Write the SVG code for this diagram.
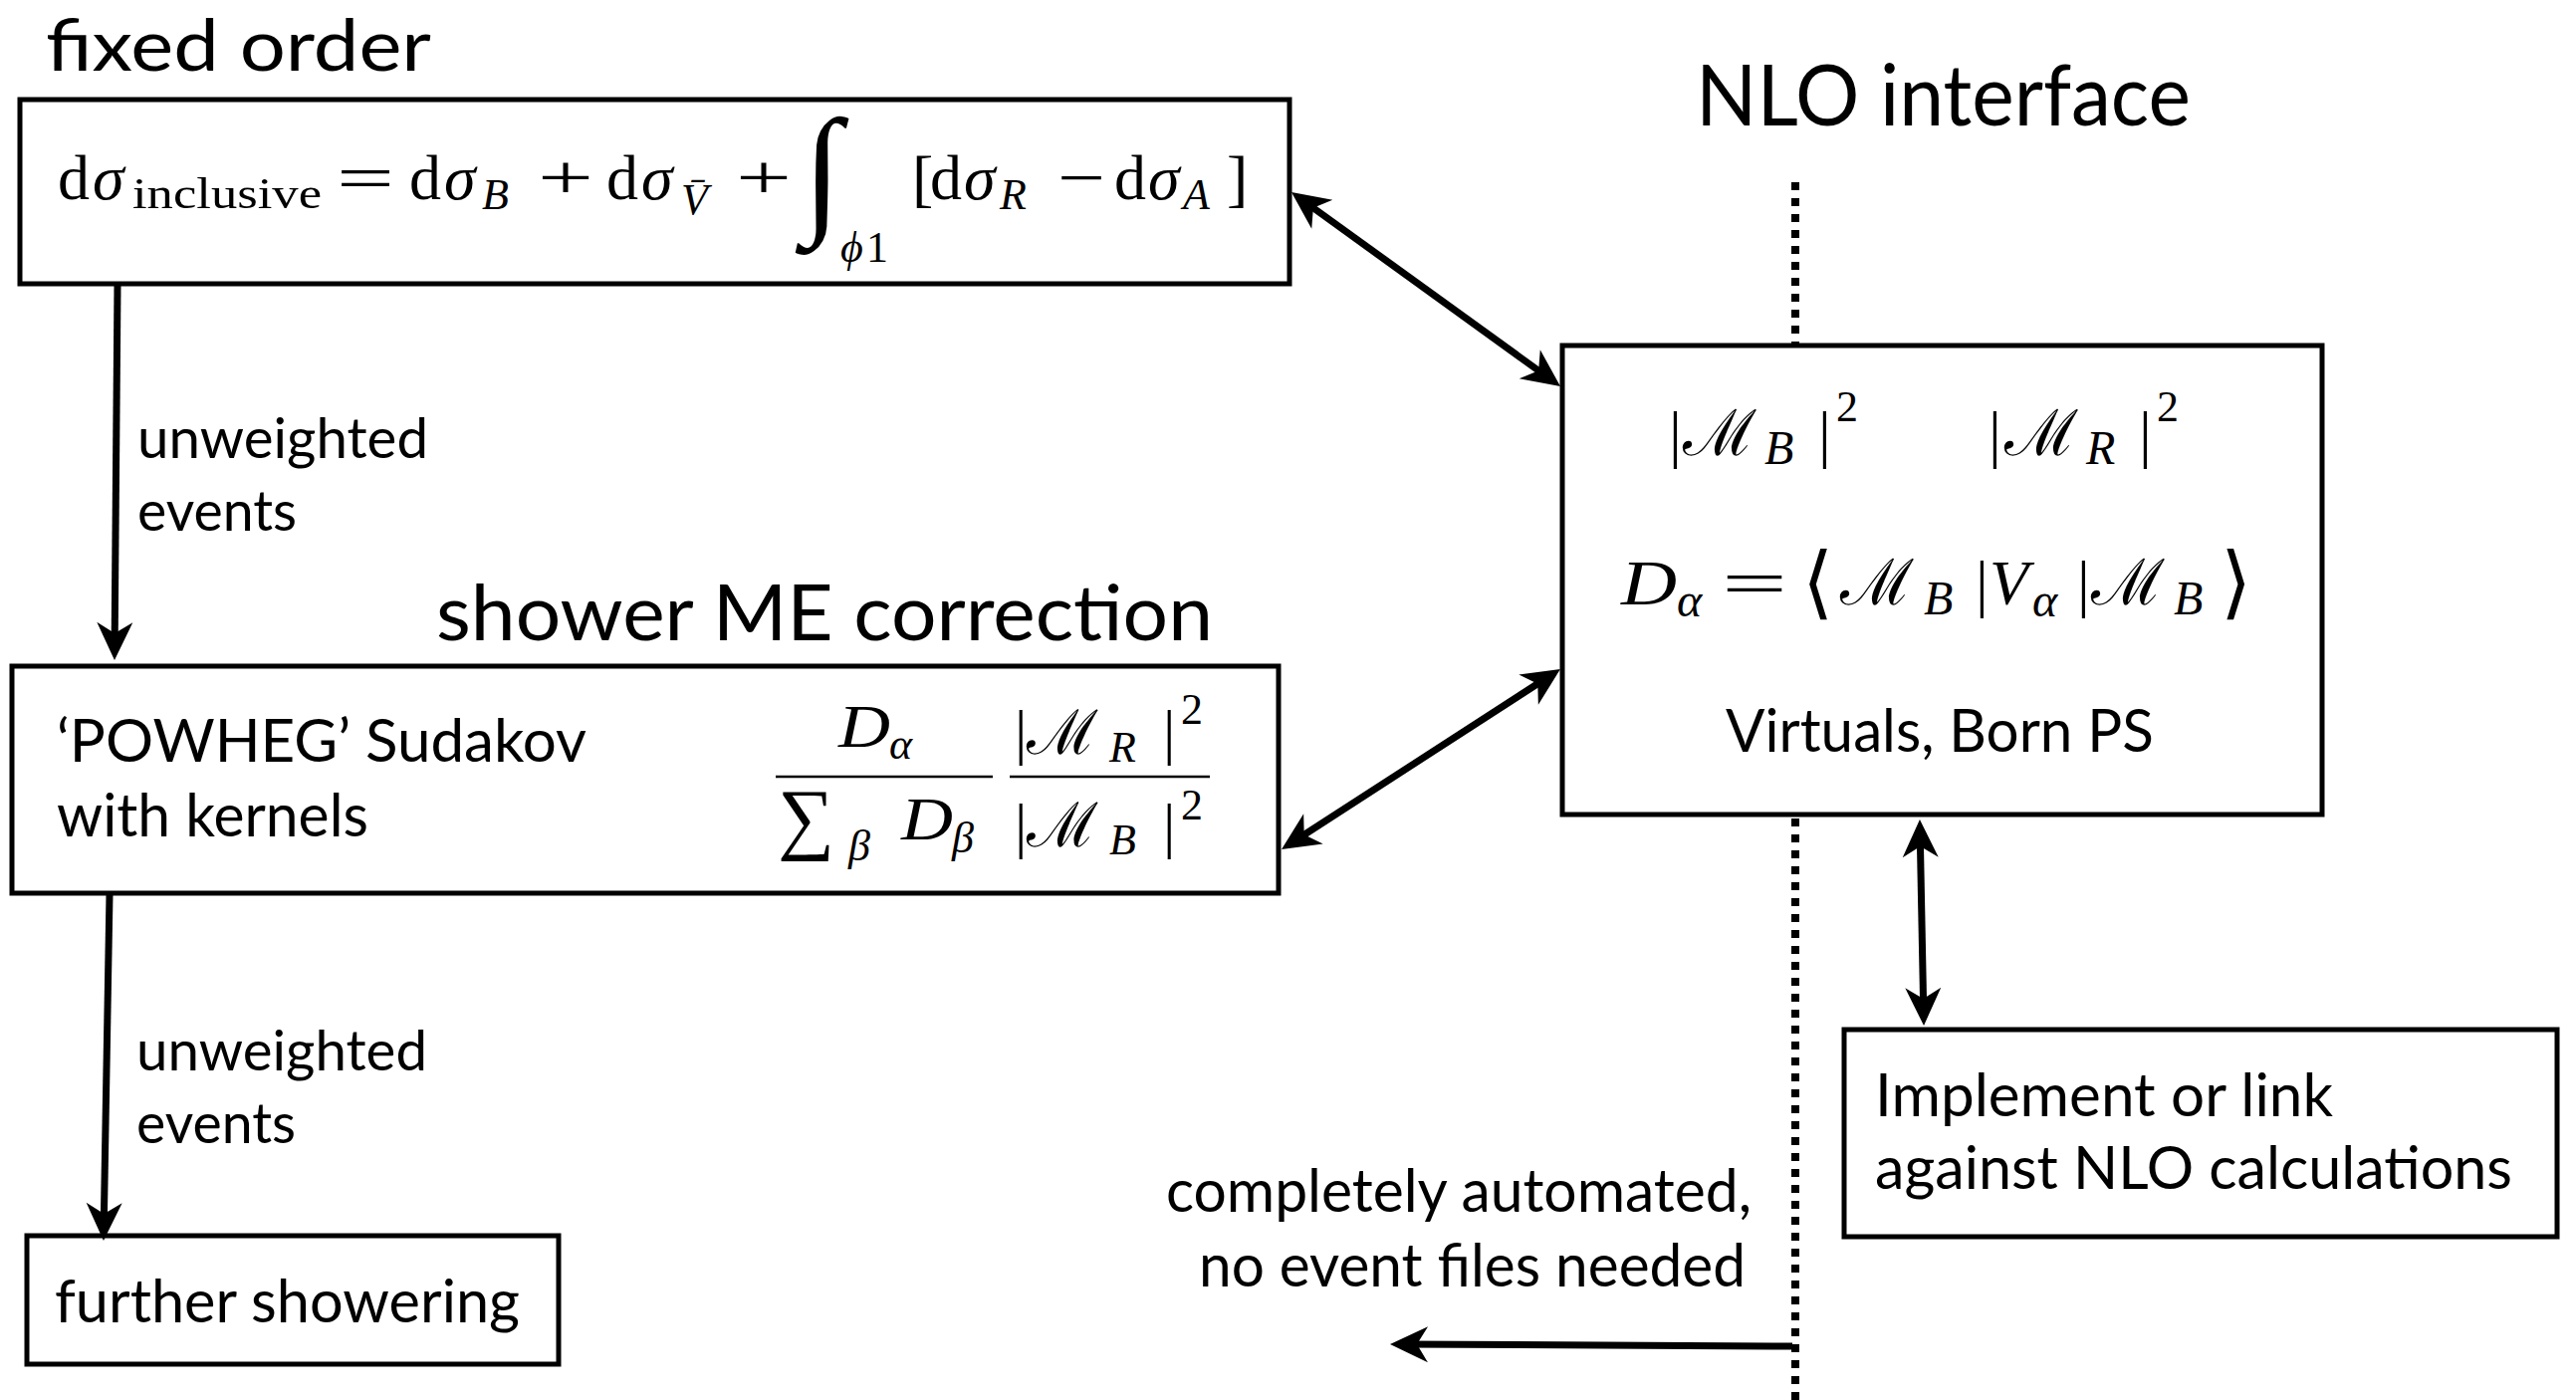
<svg xmlns="http://www.w3.org/2000/svg" width="2587" height="1406" viewBox="0 0 2587 1406">
<style>
.t{font-family:Lato,"Open Sans","Liberation Sans",sans-serif;fill:#000}
.h{font-size:77px}
.b{font-size:60px}
.l{font-size:57px}
.m{font-family:"Liberation Serif","DejaVu Serif",serif;font-size:64px;fill:#000}
.s{font-size:44px}
.s2{font-size:48px}
.i{font-style:italic}
.box{fill:#fff;stroke:#000;stroke-width:5}
.arr{fill:none;stroke:#000;stroke-width:7}
.bar{stroke:#000;stroke-width:2.5}
.dot{fill:none;stroke:#000;stroke-width:8;stroke-dasharray:8 8}
</style>
<defs>
<marker id="ah" viewBox="-28 -20 44 40" refX="0" refY="0" markerWidth="44" markerHeight="40" markerUnits="userSpaceOnUse" orient="auto-start-reverse">
<path d="M12,0 L-26,-18 L-15,0 L-26,18 Z" fill="#000"/>
</marker>
</defs>

<g id="interface-line">
<line class="dot" x1="1803" y1="183" x2="1803" y2="346"/>
<line class="dot" x1="1803" y1="822" x2="1803" y2="1406"/>
</g>

<g id="labels">
<text class="t" style="font-size:71px" x="46" y="71" textLength="387" lengthAdjust="spacingAndGlyphs">fixed order</text>
<text class="t" style="font-size:85px" x="1703" y="126" textLength="497" lengthAdjust="spacingAndGlyphs">NLO interface</text>
<text class="t h" x="438" y="643" textLength="780" lengthAdjust="spacingAndGlyphs">shower ME correction</text>
<text class="t l" x="138" y="460" textLength="292" lengthAdjust="spacingAndGlyphs">unweighted</text>
<text class="t l" x="138" y="533" textLength="160" lengthAdjust="spacingAndGlyphs">events</text>
<text class="t l" x="137" y="1075" textLength="292" lengthAdjust="spacingAndGlyphs">unweighted</text>
<text class="t l" x="137" y="1148" textLength="160" lengthAdjust="spacingAndGlyphs">events</text>
<text class="t b" x="1171" y="1217" textLength="588" lengthAdjust="spacingAndGlyphs">completely automated,</text>
<text class="t b" x="1204" y="1292" textLength="549" lengthAdjust="spacingAndGlyphs">no event files needed</text>
</g>

<g id="node-fixed-order">
<rect class="box" x="20" y="100" width="1275" height="185"/>
<text class="m">
<tspan x="58" y="200">d</tspan><tspan class="i" x="93" y="200">σ</tspan>
<tspan class="s" x="133" y="209" textLength="190" lengthAdjust="spacingAndGlyphs">inclusive</tspan>
<tspan x="338" y="200" textLength="58" lengthAdjust="spacingAndGlyphs">=</tspan>
<tspan x="411" y="200">d</tspan><tspan class="i" x="446" y="200">σ</tspan><tspan class="s i" x="484" y="210">B</tspan>
<tspan x="540" y="200" textLength="56" lengthAdjust="spacingAndGlyphs">+</tspan>
<tspan x="609" y="200">d</tspan><tspan class="i" x="644" y="200">σ</tspan><tspan class="s i" x="684" y="215">V̄</tspan>
<tspan x="739" y="200" textLength="56" lengthAdjust="spacingAndGlyphs">+</tspan>
</text>
<text class="m i" x="806" y="218" style="font-size:142px">∫</text>
<text class="m">
<tspan class="s i" x="844" y="263">ϕ</tspan><tspan class="s" x="870" y="263">1</tspan>
<tspan x="916" y="200">[</tspan>
<tspan x="934" y="200">d</tspan><tspan class="i" x="968" y="200">σ</tspan><tspan class="s i" x="1004" y="210">R</tspan>
<tspan x="1062" y="200" textLength="48" lengthAdjust="spacingAndGlyphs">−</tspan>
<tspan x="1119" y="200">d</tspan><tspan class="i" x="1153" y="200">σ</tspan><tspan class="s i" x="1188" y="210">A</tspan>
<tspan x="1232" y="200">]</tspan>
</text>
</g>

<g id="node-shower-me">
<rect class="box" x="12" y="669" width="1272" height="228"/>
<text class="t b" x="57" y="765" textLength="532" lengthAdjust="spacingAndGlyphs">‘POWHEG’ Sudakov</text>
<text class="t b" x="57" y="840" textLength="313" lengthAdjust="spacingAndGlyphs">with kernels</text>
<text class="m" style="font-size:62px">
<tspan class="i" x="842" y="750" textLength="52" lengthAdjust="spacingAndGlyphs">D</tspan><tspan class="s i" x="893" y="762">α</tspan>
<tspan x="781" y="848" style="font-size:80px">∑</tspan><tspan class="s i" x="852" y="864">β</tspan>
<tspan class="i" x="905" y="843" textLength="52" lengthAdjust="spacingAndGlyphs">D</tspan><tspan class="s i" x="956" y="856">β</tspan>
<tspan x="1019" y="756">|</tspan><tspan x="1031" y="757">ℳ</tspan><tspan class="s i" x="1114" y="765">R</tspan><tspan x="1168" y="756">|</tspan><tspan class="s" x="1186" y="727">2</tspan>
<tspan x="1019" y="850">|</tspan><tspan x="1031" y="850">ℳ</tspan><tspan class="s i" x="1114" y="858">B</tspan><tspan x="1168" y="850">|</tspan><tspan class="s" x="1186" y="823">2</tspan>
</text>
<line class="bar" x1="779" y1="780" x2="997" y2="780"/>
<line class="bar" x1="1014" y1="780" x2="1215" y2="780"/>
</g>

<g id="node-further-showering">
<rect class="box" x="27" y="1241" width="534" height="129"/>
<text class="t b" x="55" y="1328" textLength="467" lengthAdjust="spacingAndGlyphs">further showering</text>
</g>

<g id="node-nlo-box">
<rect class="box" x="1569" y="347" width="763" height="471"/>
<text class="m">
<tspan x="1676" y="457">|</tspan><tspan x="1690" y="457">ℳ</tspan><tspan class="s2 i" x="1772" y="466">B</tspan><tspan x="1826" y="457">|</tspan><tspan class="s" x="1844" y="423">2</tspan>
<tspan x="1997" y="457">|</tspan><tspan x="2013" y="457">ℳ</tspan><tspan class="s2 i" x="2095" y="466">R</tspan><tspan x="2148" y="457">|</tspan><tspan class="s" x="2166" y="423">2</tspan>
<tspan class="i" x="1628" y="607" textLength="56" lengthAdjust="spacingAndGlyphs">D</tspan><tspan class="s2 i" x="1684" y="619">α</tspan>
<tspan x="1729" y="607" textLength="66" lengthAdjust="spacingAndGlyphs">=</tspan>
<tspan x="1810" y="612" style="font-size:80px">⟨</tspan><tspan x="1848" y="607">ℳ</tspan><tspan class="s2 i" x="1932" y="617">B</tspan><tspan x="1984" y="607">|</tspan>
<tspan class="i" x="1998" y="607">V</tspan><tspan class="s2 i" x="2041" y="619">α</tspan><tspan x="2086" y="607">|</tspan>
<tspan x="2100" y="607">ℳ</tspan><tspan class="s2 i" x="2183" y="617">B</tspan><tspan x="2230" y="612" style="font-size:80px">⟩</tspan>
</text>
<text class="t b" x="1733" y="755" textLength="430" lengthAdjust="spacingAndGlyphs">Virtuals, Born PS</text>
</g>

<g id="node-nlo-calc">
<rect class="box" x="1852" y="1034" width="716" height="208"/>
<text class="t b" x="1883" y="1121" textLength="460" lengthAdjust="spacingAndGlyphs">Implement or link</text>
<text class="t b" x="1883" y="1194" textLength="640" lengthAdjust="spacingAndGlyphs">against NLO calculations</text>
</g>

<g id="connectors">
<path class="arr" d="M118,287 L115.1,651" marker-end="url(#ah)"/>
<path class="arr" d="M110,899 L104.2,1234" marker-end="url(#ah)"/>
<path class="arr" d="M1306.7,200 L1557.3,381" marker-start="url(#ah)" marker-end="url(#ah)"/>
<path class="arr" d="M1556.9,678.5 L1297.1,846.5" marker-start="url(#ah)" marker-end="url(#ah)"/>
<path class="arr" d="M1928.2,835 L1931.8,1018" marker-start="url(#ah)" marker-end="url(#ah)"/>
<path class="arr" d="M1800,1352 L1408,1350" marker-end="url(#ah)"/>
</g>
</svg>
